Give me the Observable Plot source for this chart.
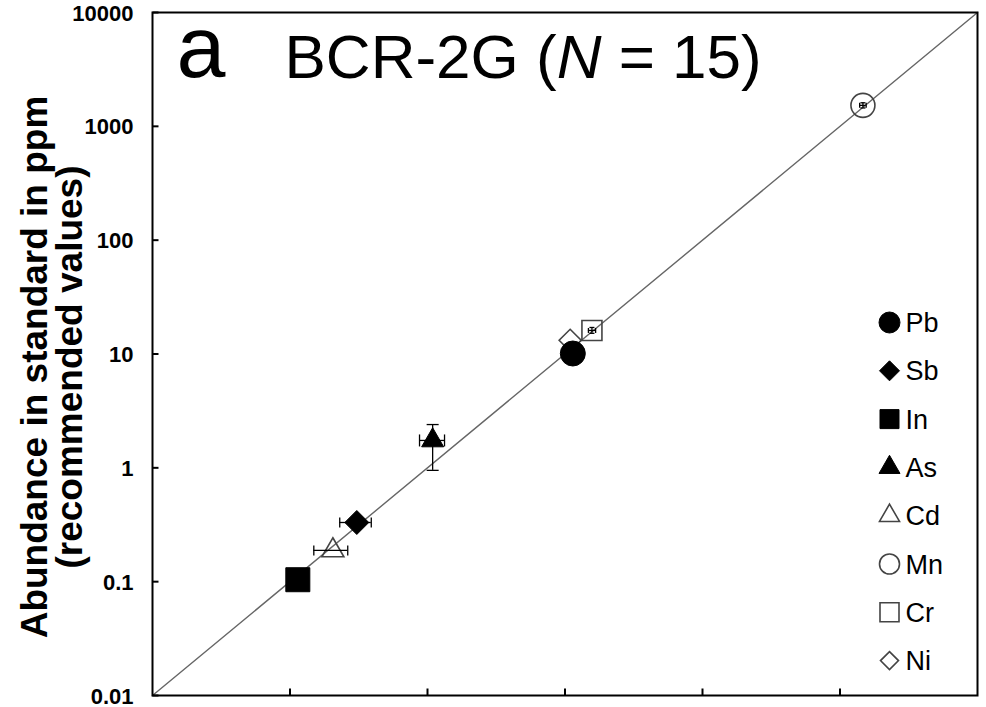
<!DOCTYPE html>
<html><head><meta charset="utf-8">
<script src="https://cdn.jsdelivr.net/npm/d3@7"></script>
<script src="https://cdn.jsdelivr.net/npm/@observablehq/plot@0.6"></script>
<style>
body{margin:0;background:#fff;}
#chart{width:986px;height:707px;}
</style></head><body><div id="chart"></div>
<script>
// ---- data ----
const elements    = ["Pb", "Sb", "In", "As", "Cd", "Mn", "Cr", "Ni"];
const measured    = [11.4, 0.306, 0.114, 1.09, 0.205, 1468, 15.7, 10.9];   // x
const recommended = [10.1, 0.331, 0.104, 1.74, 0.188, 1528, 16.1, 13.2];   // y
const xErrLow  = [null, 0.23, null, 0.875, 0.149, 1390, 14.8, null];
const xErrHigh = [null, 0.39, null, 1.33, 0.263, 1550, 16.7, null];
const yErrLow  = [null, null, null, 0.95, null, 1450, 15.2, null];
const yErrHigh = [null, null, null, 2.4, null, 1610, 17.1, null];
const yTickValues = [0.01, 0.1, 1, 10, 100, 1000, 10000];
const yTickLabels = ["0.01", "0.1", "1", "10", "100", "1000", "10000"];
const xTickValues = [0.1, 1, 10, 100, 1000];
const oneToOne = [0.01, 10000];
const legendOrder = ["Pb", "Sb", "In", "As", "Cd", "Mn", "Cr", "Ni"];
const drawOrder = ["Ni", "Cr", "Mn", "Cd", "Pb", "Sb", "In", "As"];

// ---- styles ----
const rad = s => Math.sqrt(s / Math.PI);
const SYM = {
  circle:  {draw(c, s){const r = rad(s); c.moveTo(r, 0); c.arc(0, 0, r, 0, 2 * Math.PI);}},
  square:  {draw(c, s){const r = rad(s); c.moveTo(-r, -r); c.lineTo(r, -r); c.lineTo(r, r); c.lineTo(-r, r); c.closePath();}},
  diamond: {draw(c, s){const r = rad(s); c.moveTo(0, -r); c.lineTo(r, 0); c.lineTo(0, r); c.lineTo(-r, 0); c.closePath();}},
  triangle:{draw(c, s){const r = rad(s), h = r * Math.sqrt(3); c.moveTo(0, -2 * h / 3); c.lineTo(r, h / 3); c.lineTo(-r, h / 3); c.closePath();}},
  vcap:    {draw(c, s){const r = rad(s); c.moveTo(0, -r); c.lineTo(0, r);}},
  hcap:    {draw(c, s){const r = rad(s); c.moveTo(-r, 0); c.lineTo(r, 0);}},
  tickRight:{draw(c, s){const r = rad(s); c.moveTo(0, 0); c.lineTo(r, 0);}},
  tickUp:  {draw(c, s){const r = rad(s); c.moveTo(0, 0); c.lineTo(0, -r);}}
};
const style = {
  Pb: {shape: "circle",   filled: true,  r: 12.5, lr: 10.5, cap: 0},
  Sb: {shape: "diamond",  filled: true,  r: 12,   lr: 10,   cap: 5},
  In: {shape: "square",   filled: true,  r: 12,   lr: 9.5,  cap: 0},
  As: {shape: "triangle", filled: true,  r: 11,   lr: 10.5, cap: 6},
  Cd: {shape: "triangle", filled: false, r: 11,   lr: 10,   cap: 5},
  Mn: {shape: "circle",   filled: false, r: 12,   lr: 10,   cap: 2.5},
  Cr: {shape: "square",   filled: false, r: 10,   lr: 9.5,  cap: 2.5},
  Ni: {shape: "diamond",  filled: false, r: 11,   lr: 9,    cap: 0}
};
const openStroke = "#444";

const idx = e => elements.indexOf(e);
const marks = [];

// 1:1 line
marks.push(Plot.line(oneToOne, {x: d => d, y: d => d, stroke: "#666", strokeWidth: 1.4}));

// markers
for (const e of drawOrder) {
  const i = idx(e), st = style[e];
  marks.push(Plot.dot([i], {
    x: j => measured[j], y: j => recommended[j],
    symbol: SYM[st.shape], r: st.r,
    fill: st.filled ? "black" : "none",
    stroke: st.filled ? "black" : openStroke,
    strokeWidth: st.filled ? 1 : 1.6
  }));
}

// error bars
const xe = elements.map((_, i) => i).filter(i => xErrLow[i] != null);
const ye = elements.map((_, i) => i).filter(i => yErrLow[i] != null);
marks.push(Plot.ruleY(xe, {y: i => recommended[i], x1: i => xErrLow[i], x2: i => xErrHigh[i], stroke: "black", strokeWidth: 1.3}));
marks.push(Plot.ruleX(ye, {x: i => measured[i], y1: i => yErrLow[i], y2: i => yErrHigh[i], stroke: "black", strokeWidth: 1.3}));
for (const i of xe) {
  const r = style[elements[i]].cap;
  marks.push(Plot.dot([xErrLow[i], xErrHigh[i]], {x: d => d, y: () => recommended[i], symbol: SYM.vcap, r, stroke: "black", strokeWidth: 1.3}));
}
for (const i of ye) {
  const r = style[elements[i]].cap;
  marks.push(Plot.dot([yErrLow[i], yErrHigh[i]], {x: () => measured[i], y: d => d, symbol: SYM.hcap, r, stroke: "black", strokeWidth: 1.3}));
}

// frame + inward ticks + labels
marks.push(Plot.frame({stroke: "black", strokeWidth: 2}));
marks.push(Plot.dot(yTickValues, {y: d => d, frameAnchor: "left", symbol: SYM.tickRight, r: 6, stroke: "black", strokeWidth: 2}));
marks.push(Plot.dot(xTickValues, {x: d => d, frameAnchor: "bottom", symbol: SYM.tickUp, r: 7, stroke: "black", strokeWidth: 2}));
marks.push(Plot.text(yTickValues, {y: d => d, frameAnchor: "left", text: (d, i) => yTickLabels[i], textAnchor: "end", dx: -19, dy: 1, fontWeight: "bold", fontSize: 22, fill: "black"}));

// y axis title
marks.push(Plot.text(["Abundance in standard in ppm\n(recommended values)"], {
  frameAnchor: "left", text: d => d, rotate: -90, dx: -99, dy: 13,
  fontWeight: "bold", fontSize: 37, lineHeight: 0.93, textAnchor: "middle", lineAnchor: "middle", fill: "black"
}));

// panel letter and title
marks.push(Plot.text(["a"], {frameAnchor: "top-left", text: d => d, dx: 24, dy: 2, fontSize: 88, lineAnchor: "top", textAnchor: "start", fill: "black"}));
marks.push(Plot.text(["BCR-2G (N = 15)"], {frameAnchor: "top-left", text: d => d, dx: 132, dy: 21, fontSize: 62, lineAnchor: "top", textAnchor: "start", fill: "black", className: "ttl"}));

// legend (inside the frame)
legendOrder.forEach((e, k) => {
  const st = style[e];
  const dy = 310 + k * 48.3;
  marks.push(Plot.dot([e], {frameAnchor: "top-left", dx: 737, dy, symbol: SYM[st.shape], r: st.lr,
    fill: st.filled ? "black" : "none", stroke: st.filled ? "black" : openStroke, strokeWidth: st.filled ? 1 : 1.6}));
  marks.push(Plot.text([e], {frameAnchor: "top-left", dx: 753, dy: dy + 1, text: d => d, textAnchor: "start", lineAnchor: "middle", fontSize: 27, fill: "black"}));
});

const chart = Plot.plot({
  width: 986, height: 707,
  marginLeft: 152, marginRight: 9, marginTop: 12, marginBottom: 12,
  x: {type: "log", domain: [0.01, 10000], axis: null},
  y: {type: "log", domain: [0.01, 10000], axis: null},
  style: {fontFamily: "'Liberation Sans', Arial, sans-serif", background: "white", color: "black"},
  marks
});
// italic N in the title
d3.select(chart).selectAll(".ttl text").each(function() {
  const t = d3.select(this);
  t.text(null);
  t.append("tspan").text("BCR-2G (");
  t.append("tspan").attr("font-style", "italic").text("N");
  t.append("tspan").text(" = 15)");
});
document.getElementById("chart").appendChild(chart);
</script></body></html>
